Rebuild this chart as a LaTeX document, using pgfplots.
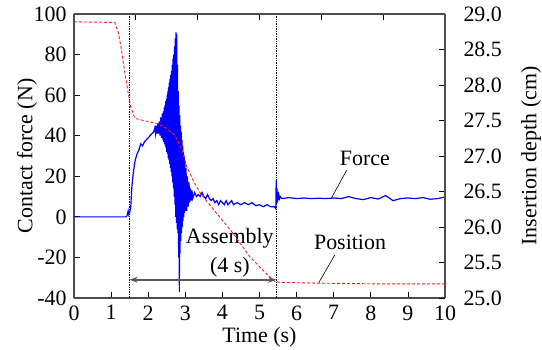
\documentclass[border=0pt]{standalone}
\usepackage{fontspec}
\setmainfont{Liberation Serif}
\usepackage{pgfplots}
\pgfplotsset{compat=1.18}
\usetikzlibrary{arrows.meta}
\begin{document}
\fontsize{22}{26}\selectfont
\begin{tikzpicture}
\pgfplotsset{
  common/.style={
    scale only axis, width=371bp, height=284bp,
    xmin=0, xmax=10,
    tick align=inside,
    major tick length=6bp,
    tick style={black, line width=0.8bp},
    axis line style={gray!60!black, line width=1.1bp},
    clip=false,
  }
}
\begin{axis}[common,
  axis x line*=bottom, axis y line*=left,
  ymin=-40, ymax=100,
  xtick={0,1,2,3,4,5,6,7,8,9,10},
  xticklabels={0,1,2,3,4,5,6,7,8,9,10},
  ytick={-40,-20,0,20,40,60,80,100},
  yticklabels={-40,-20,0,20,40,60,80,100},
  xlabel={Time (s)},
  ylabel={Contact force (N)},
  every axis x label/.style={at={(axis description cs:0.5,0)}, anchor=center, yshift=-39bp},
  every axis y label/.style={at={(axis description cs:0,0.5)}, xshift=-47bp, rotate=90, anchor=center},
]
\coordinate (sw) at (rel axis cs:0,0);
\coordinate (ne) at (rel axis cs:1,1);
\draw[densely dotted, black, line width=0.7bp] (axis cs:1.5,-40) -- (axis cs:1.5,100);
\draw[densely dotted, black, line width=0.7bp] (axis cs:5.45,-40) -- (axis cs:5.45,100);
\addplot[blue, line width=1.2bp, no marks] coordinates {
(0,0) (1.40,0) (1.43,0.5) (1.46,3) (1.48,1) (1.50,2) (1.53,5) (1.56,15) (1.60,22) (1.65,28)
(1.70,31) (1.75,33) (1.80,36) (1.85,35) (1.90,37) (1.95,38) (2.00,39) (2.05,40) (2.10,41) (2.15,42)
(2.18,44) (2.20,41) (2.22,45) (2.24,41) (2.26,46) (2.28,41) (2.30,47) (2.32,40) (2.34,49) (2.36,39)
(2.38,51) (2.40,38) (2.41,52) (2.42,37) (2.43,54) (2.44,36) (2.45,55) (2.46,35) (2.47,57) (2.48,34)
(2.49,58) (2.50,32) (2.51,60) (2.52,31) (2.53,62) (2.54,29) (2.55,64) (2.56,28) (2.57,66) (2.58,26)
(2.59,68) (2.60,24) (2.61,70) (2.62,22) (2.63,72) (2.64,20) (2.65,75) (2.66,17) (2.67,78) (2.68,14)
(2.69,80) (2.70,10) (2.71,84) (2.72,6) (2.73,88) (2.74,0) (2.75,91) (2.76,-3) (2.77,90) (2.78,-6)
(2.79,75) (2.80,-8) (2.81,62) (2.82,-20) (2.83,55) (2.84,-37) (2.85,50) (2.86,-18) (2.87,45) (2.88,-12)
(2.89,42) (2.90,-8) (2.91,38) (2.92,-5) (2.93,35) (2.94,-2) (2.95,32) (2.96,0) (2.97,30) (2.98,2)
(2.99,27) (3.00,3) (3.02,24) (3.04,3) (3.06,20) (3.08,5) (3.10,17) (3.12,7) (3.14,14) (3.16,8)
(3.18,13) (3.20,9) (3.25,12) (3.3,10) (3.35,11) (3.4,10) (3.45,12) (3.5,10) (3.55,9) (3.6,11)
(3.65,9) (3.7,8) (3.75,9) (3.8,7) (3.85,8) (3.9,6) (3.95,8) (4.0,7) (4.05,6) (4.1,8) (4.15,6)
(4.2,7) (4.25,8) (4.3,6) (4.4,7) (4.5,6) (4.6,7) (4.7,6) (4.8,7) (4.9,5.5) (5.0,6) (5.1,5)
(5.2,6) (5.3,5) (5.4,5) (5.44,4) (5.45,18) (5.46,6) (5.47,14) (5.48,7) (5.49,12) (5.50,8)
(5.52,11) (5.54,9) (5.56,10) (5.6,9) (5.8,9.5) (6,9) (6.2,9.3) (6.4,9) (6.6,9.2) (6.8,9)
(7.0,9.3) (7.2,9) (7.4,10) (7.6,9) (7.8,8.5) (8,9.5) (8.2,8.8) (8.4,10.5) (8.6,8) (8.8,9)
(9.0,9.3) (9.2,9) (9.4,9.5) (9.6,8.7) (9.8,9) (10,9.8)
};
\draw[{Stealth[length=8bp,width=6bp]}-{Stealth[length=8bp,width=6bp]}, gray!70!black, line width=1.6bp] (axis cs:1.5,-31) -- (axis cs:5.45,-31);
\node[align=center, font=\fontsize{22}{29}\selectfont] at (axis cs:4.2,-17.5) {Assembly\\(4 s)};
\node at (axis cs:7.84,29) {Force};
\node at (axis cs:7.44,-12.8) {Position};
\draw[black, line width=0.6bp] (axis cs:7.35,23) -- (axis cs:6.94,9.3);
\draw[black, line width=0.6bp] (axis cs:7.03,-18.7) -- (axis cs:6.6,-32.4);
\end{axis}
\begin{axis}[common,
  axis x line*=top, axis y line*=right,
  ymin=25, ymax=29,
  xtick={1.6667,3.3333,5,6.6667,8.3333}, xticklabels={},
  ytick={25,25.5,26,26.5,27,27.5,28,28.5,29},
  yticklabels={25.0,25.5,26.0,26.5,27.0,27.5,28.0,28.5,29.0},
  yticklabel style={xshift=11bp},
  ylabel={Insertion depth (cm)},
  every axis y label/.style={at={(axis description cs:1,0.5)}, xshift=86bp, rotate=90, anchor=center},
]
\addplot[red!90!white, line width=0.9bp, dash pattern=on 3bp off 2bp, no marks] coordinates {
(0,28.89) (1.1,28.88) (1.2,28.73) (1.28,28.49) (1.37,28.17) (1.46,27.89) (1.53,27.69) (1.64,27.53)
(1.87,27.5) (2.23,27.46) (2.5,27.39) (2.72,27.29) (2.86,27.15) (2.95,27.02) (3.04,26.85) (3.21,26.66)
(3.4,26.48) (3.85,26.19) (4.29,25.91) (4.74,25.58) (5.19,25.34) (5.42,25.23) (5.6,25.22) (6.5,25.21)
(8,25.2) (10,25.2)
};
\end{axis}
\pgfresetboundingbox
\path ([shift={(-74bp,-52bp)}]sw) rectangle ([shift={(97bp,14bp)}]ne);
\end{tikzpicture}
\end{document}
